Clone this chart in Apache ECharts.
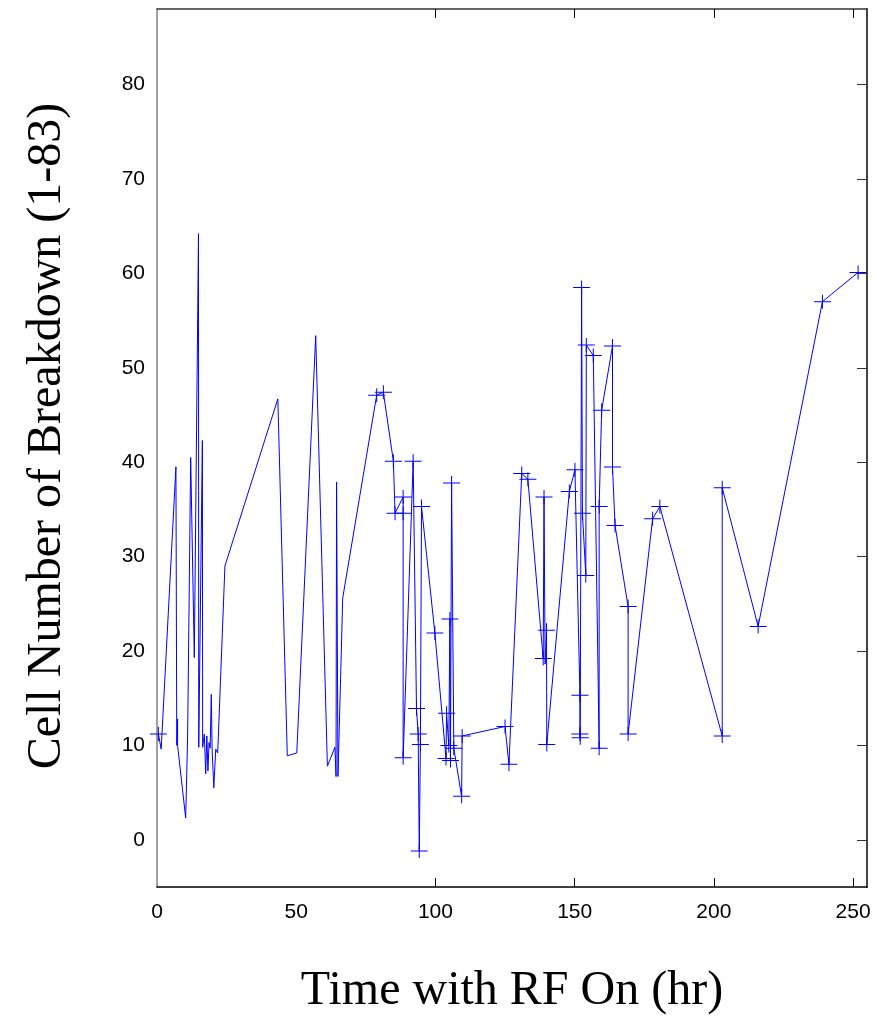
<!DOCTYPE html>
<html>
<head>
<meta charset="utf-8">
<script src="https://cdn.jsdelivr.net/npm/echarts@6/dist/echarts.min.js"></script>
<style>
  html, body { margin: 0; padding: 0; background: #ffffff; }
  #chart { width: 886px; height: 1020px; }
</style>
</head>
<body>
<div id="chart"></div>
<script>
// Time with RF on (hr), in recorded order
const timeHr = [
  0.5, 1.5, 6.8, 7.1, 7.4, 7.4, 10.3, 11.0, 12.1, 13.4,
  14.9, 15.0, 16.3, 16.4, 17.0, 17.5, 17.9, 18.3, 18.7, 19.1,
  19.5, 19.8, 20.4, 21.1, 21.8, 24.4, 43.4, 46.8, 50.2, 57.0,
  61.2, 63.9, 64.3, 64.5, 65.0, 66.7,
  78.9, 81.3, 84.9, 85.5, 88.4, 88.4, 88.4, 92.0, 93.2, 93.8,
  94.2, 94.6, 95.0, 99.8, 103.8, 104.0, 104.8, 105.2, 105.4, 105.8,
  106.6, 109.4, 109.6, 125.0, 126.4, 131.0, 133.2, 138.7, 139.0, 139.4,
  139.9, 140.0, 148.1, 150.1, 151.9, 151.9, 152.0, 152.5, 152.8, 154.0,
  154.2, 156.7, 158.8, 158.8, 159.7, 163.6, 163.6, 164.5, 169.2, 169.2,
  178.0, 180.6, 203.0, 203.0, 215.9, 239.0, 251.8
];
// Cell number of breakdown (1-83)
const cellNum = [
  11.2, 9.6, 39.5, 10.0, 12.8, 10.0, 2.3, 11.0, 40.5, 19.3,
  64.2, 9.8, 42.3, 9.8, 11.2, 7.0, 11.0, 7.3, 10.3, 9.7,
  15.4, 9.5, 5.5, 9.6, 9.2, 29.0, 46.7, 8.9, 9.2, 53.4,
  7.8, 9.8, 6.7, 37.9, 6.7, 25.6,
  47.1, 47.4, 40.1, 34.6, 36.3, 34.6, 8.7, 40.1, 13.9, 11.2,
  -1.2, 10.1, 35.3, 21.9, 8.6, 13.4, 10.0, 23.4, 8.4, 37.8,
  9.7, 4.6, 11.0, 12.0, 8.0, 38.8, 38.2, 19.2, 36.3, 18.6,
  22.2, 10.1, 36.9, 39.2, 15.3, 11.2, 10.8, 58.5, 34.6, 28.0,
  52.4, 51.3, 9.7, 35.3, 45.5, 52.3, 39.5, 33.3, 24.7, 11.2,
  34.0, 35.3, 11.0, 37.3, 22.6, 57.0, 60.1
];
// 1 = point drawn with a "+" marker
const marked = [
  1, 0, 0, 0, 0, 0, 0, 0, 0, 0,
  0, 0, 0, 0, 0, 0, 0, 0, 0, 0,
  0, 0, 0, 0, 0, 0, 0, 0, 0, 0,
  0, 0, 0, 0, 0, 0,
  1, 1, 1, 1, 1, 1, 1, 1, 1, 1,
  1, 1, 1, 1, 1, 1, 1, 1, 1, 1,
  1, 1, 1, 1, 1, 1, 1, 1, 1, 0,
  1, 1, 1, 1, 1, 1, 1, 1, 1, 1,
  1, 1, 1, 1, 1, 1, 1, 1, 1, 1,
  1, 1, 1, 1, 1, 1, 1
];
const xTickLabels = [0, 50, 100, 150, 200, 250];
const xTickMarks = [100, 150, 200, 250];
const yTickLabels = [0, 10, 20, 30, 40, 50, 60, 70, 80];

const crossPath = 'path://M0,6.5h17v1h-17z M8,0h1v14h-1z';
const seriesData = timeHr.map((t, i) => ({
  value: [t, cellNum[i]],
  symbol: marked[i] ? crossPath : 'none'
}));

const chart = echarts.init(document.getElementById('chart'), null, { renderer: 'canvas' });
const labelFont = { fontFamily: 'Liberation Sans, Arial, sans-serif', fontSize: 21, color: '#000' };
const titleFont = { fontFamily: 'Liberation Serif, Times New Roman, serif', fontSize: 48, color: '#000' };

chart.setOption({
  animation: false,
  backgroundColor: '#ffffff',
  grid: { left: 157, right: 19, top: 9, bottom: 128, containLabel: false },
  xAxis: [
    {
      type: 'value', position: 'bottom', min: 0, max: 255,
      name: 'Time with RF On (hr)', nameLocation: 'middle', nameGap: 80,
      nameTextStyle: titleFont,
      axisLine: { show: true, onZero: false, lineStyle: { color: '#000', width: 1.5 } },
      axisTick: { show: true, inside: true, length: 9, customValues: xTickMarks, lineStyle: { color: '#000' } },
      axisLabel: { show: true, margin: 15, customValues: xTickLabels, ...labelFont },
      splitLine: { show: false }
    },
    {
      type: 'value', position: 'top', min: 0, max: 255,
      axisLine: { show: true, onZero: false, lineStyle: { color: '#333', width: 1.5 } },
      axisTick: { show: true, inside: true, length: 9, customValues: xTickMarks, lineStyle: { color: '#000' } },
      axisLabel: { show: false },
      splitLine: { show: false }
    }
  ],
  yAxis: [
    {
      type: 'value', position: 'left', min: -5, max: 88,
      name: 'Cell Number of Breakdown (1-83)', nameLocation: 'middle', nameGap: 86,
      nameTextStyle: { ...titleFont, padding: [0, 0, 0, 24] },
      axisLine: { show: true, onZero: false, lineStyle: { color: '#808080', width: 1.5 } },
      axisTick: { show: false },
      axisLabel: { show: true, margin: 12, customValues: yTickLabels, ...labelFont },
      splitLine: { show: false }
    },
    {
      type: 'value', position: 'right', min: -5, max: 88,
      axisLine: { show: true, onZero: false, lineStyle: { color: '#444', width: 2 } },
      axisTick: { show: true, inside: true, length: 10, customValues: yTickLabels, lineStyle: { color: '#333' } },
      axisLabel: { show: false },
      splitLine: { show: false }
    }
  ],
  series: [
    {
      type: 'line',
      xAxisIndex: 0, yAxisIndex: 0,
      data: seriesData,
      symbolSize: [17, 14],
      showAllSymbol: true,
      lineStyle: { color: '#0000ff', width: 1 },
      itemStyle: { color: '#0000ff', borderWidth: 0 },
      emphasis: { disabled: true },
      z: 3
    }
  ]
});
</script>
</body>
</html>
